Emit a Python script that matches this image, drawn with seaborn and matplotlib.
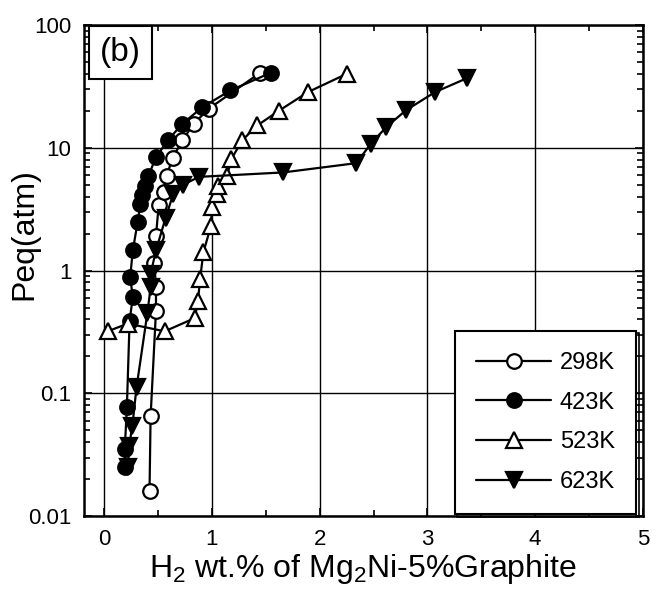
import numpy as np
import pandas as pd
import seaborn as sns
import matplotlib.pyplot as plt
from matplotlib.ticker import FixedLocator, MultipleLocator, LogLocator, FuncFormatter, NullFormatter

# PCT isotherms
x_298 = [0.42, 0.43, 0.48, 0.48, 0.465, 0.48, 0.505, 0.55, 0.578, 0.635, 0.725, 0.83, 0.97, 1.45]
y_298 = [0.016, 0.065, 0.47, 0.73, 1.15, 1.93, 3.4, 4.35, 5.9, 8.3, 11.5, 15.7, 20.8, 41]

x_423 = [0.19, 0.19, 0.21, 0.235, 0.265, 0.24, 0.265, 0.31, 0.335, 0.35, 0.38, 0.41, 0.48, 0.59, 0.725, 0.91, 1.17, 1.55]
y_423 = [0.025, 0.035, 0.078, 0.39, 0.61, 0.88, 1.46, 2.5, 3.5, 4.1, 4.9, 5.9, 8.4, 11.5, 15.7, 21.4, 29.3, 41]

x_523 = [0.03, 0.22, 0.56, 0.84, 0.87, 0.89, 0.92, 0.99, 1.0, 1.045, 1.06, 1.14, 1.18, 1.28, 1.42, 1.62, 1.89, 2.25]
y_523 = [0.32, 0.37, 0.32, 0.41, 0.57, 0.86, 1.41, 2.3, 3.3, 4.2, 4.9, 5.9, 8.1, 11.5, 15.2, 20, 28.4, 40]

x_623 = [0.22, 0.23, 0.26, 0.30, 0.40, 0.43, 0.43, 0.48, 0.57, 0.64, 0.73, 0.88, 1.66, 2.34, 2.475, 2.62, 2.80, 3.07, 3.37]
y_623 = [0.025, 0.037, 0.054, 0.113, 0.45, 0.73, 0.94, 1.46, 2.7, 4.2, 5.0, 5.8, 6.3, 7.5, 10.8, 14.8, 20.2, 28.4, 37]

series = [
    ("298K", x_298, y_298, "o", "white"),
    ("423K", x_423, y_423, "o", "black"),
    ("523K", x_523, y_523, "^", "white"),
    ("623K", x_623, y_623, "v", "black"),
]

x_ticks = [0, 1, 2, 3, 4, 5]
y_ticks = [0.01, 0.1, 1, 10, 100]

sns.set_style("ticks")
plt.rcParams["font.family"] = ["Liberation Sans", "DejaVu Sans"]
plt.rcParams["mathtext.fontset"] = "custom"
plt.rcParams["mathtext.rm"] = "Liberation Sans"
plt.rcParams["mathtext.it"] = "Liberation Sans:italic"
for k in ["text.color", "axes.labelcolor", "xtick.color", "ytick.color", "axes.edgecolor"]:
    plt.rcParams[k] = "black"

fig = plt.figure(figsize=(6.6, 5.96), dpi=100)
ax = fig.add_axes([0.127, 0.134, 0.847, 0.824])

for name, xs, ys, mk, fc in series:
    df = pd.DataFrame({"x": xs, "y": ys})
    sns.lineplot(data=df, x="x", y="y", ax=ax, sort=False, estimator=None,
                 color="black", lw=1.6, marker=mk, markersize=10.5 if mk == "o" else 11.5,
                 markerfacecolor=fc, markeredgecolor="black", markeredgewidth=1.6,
                 label=name)

ax.set_yscale("log")
ax.set_xlim(-0.19, 5)
ax.set_ylim(0.01, 100)

ax.xaxis.set_major_locator(FixedLocator(x_ticks))
ax.xaxis.set_minor_locator(MultipleLocator(0.5))
ax.yaxis.set_major_locator(FixedLocator(y_ticks))
ax.yaxis.set_minor_locator(LogLocator(base=10, subs=np.arange(2, 10)))
ax.yaxis.set_major_formatter(FuncFormatter(lambda v, p: "%g" % v))
ax.yaxis.set_minor_formatter(NullFormatter())

ax.tick_params(which="both", direction="in", top=True, right=True, width=1.2, labelsize=16)
ax.tick_params(which="major", length=6, pad=9)
ax.tick_params(which="minor", length=4)

ax.grid(True, which="major", color="black", lw=1.0, ls="-")
for s in ax.spines.values():
    s.set_linewidth(1.8)
    s.set_color("black")

ax.set_xlabel(r"H$_2$ wt.% of Mg$_2$Ni-5%Graphite", fontsize=23, labelpad=2)
ax.set_ylabel("Peq(atm)", fontsize=23)
ax.yaxis.set_label_coords(-0.08, 0.575)

ax.text(0.065, 0.945, "(b)", transform=ax.transAxes, ha="center", va="center", fontsize=24,
        bbox=dict(boxstyle="square,pad=0.33", fc="white", ec="black", lw=1.5), zorder=5)

leg = ax.legend(loc="lower right", bbox_to_anchor=(0.988, 0.004), borderaxespad=0,
                fontsize=17, handlelength=3.2, handletextpad=0.35, labelspacing=0.75,
                borderpad=0.9, fancybox=False, framealpha=1, edgecolor="black",
                shadow={"fc": "none", "ec": "black", "lw": 1.2, "alpha": 1})
leg.get_frame().set_linewidth(1.5)

fig.savefig("out.png", dpi=100)
